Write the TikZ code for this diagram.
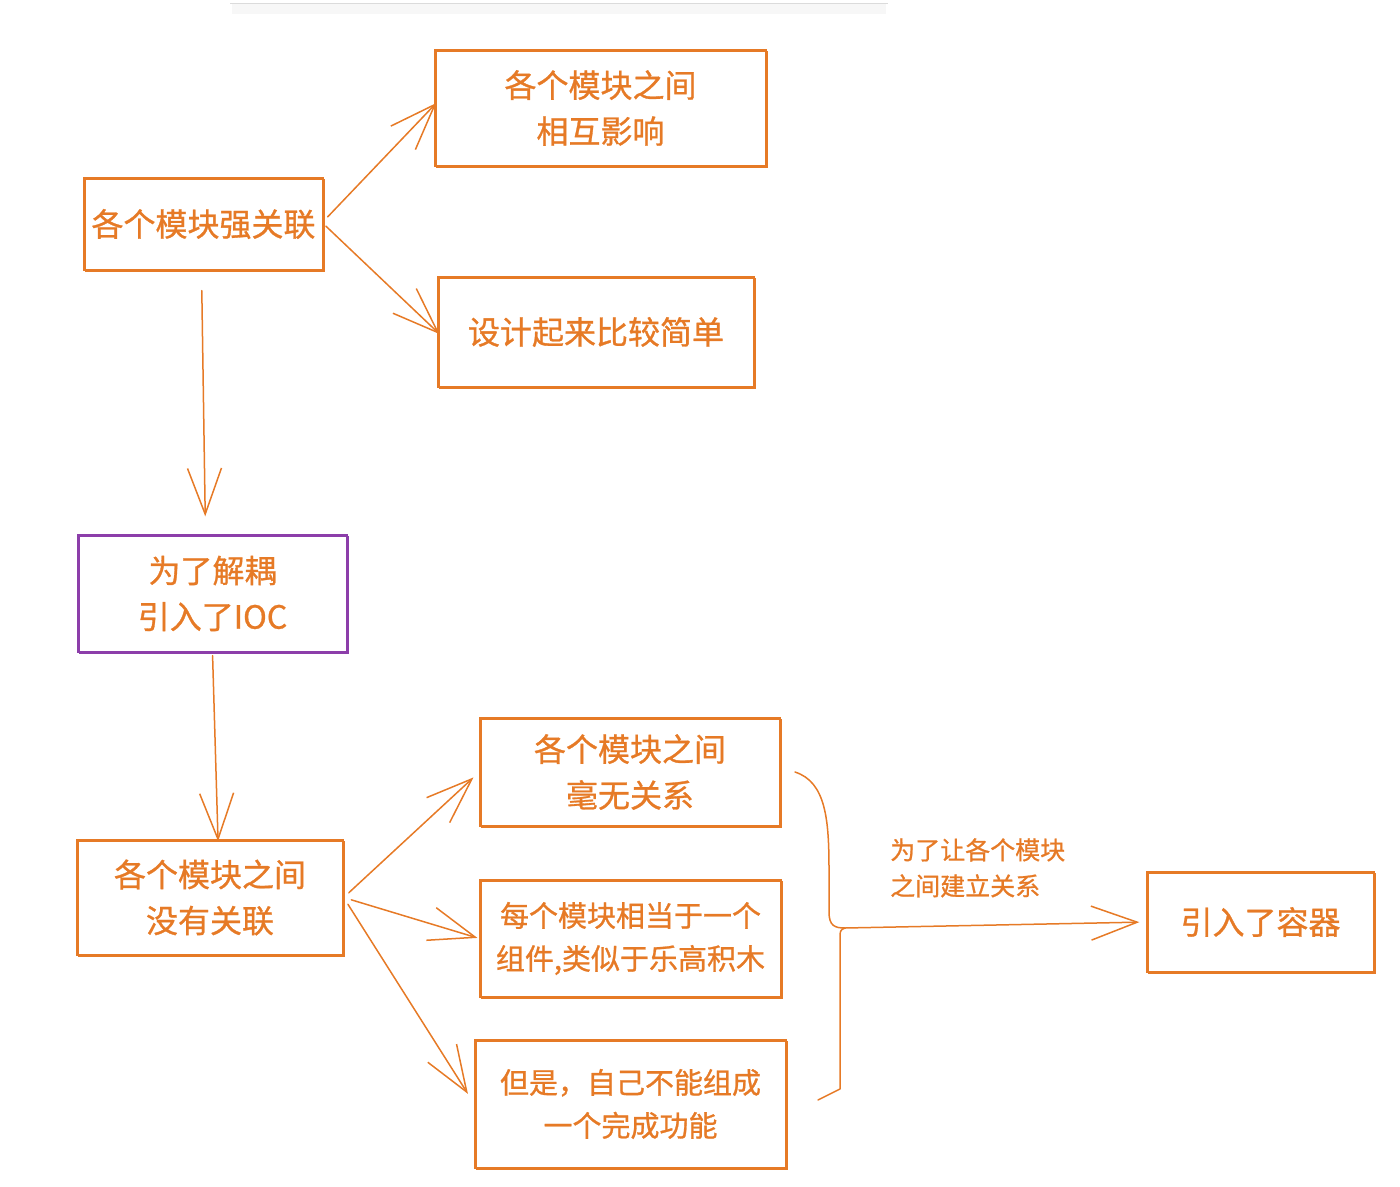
\documentclass[tikz,border=0pt]{standalone}
\usepackage{fontspec}
\setmainfont{Noto Sans CJK SC}[FakeBold=0.9]
\usetikzlibrary{arrows.meta,calc}
\definecolor{orng}{RGB}{230,122,38}
\definecolor{purp}{RGB}{140,62,170}
\tikzset{
  box/.style={draw=orng, line width=1.3pt, rectangle, inner sep=0pt, text=orng, align=center,
    font=\fontsize{32}{46}\selectfont,
    postaction={draw=orng, line width=0.7pt, transform canvas={shift={(1.5pt,-1.8pt)}}}},
  pbox/.style={box, draw=purp, postaction={draw=purp, line width=0.7pt, transform canvas={shift={(1.5pt,-1.8pt)}}}},
  smallbox/.style={box, font=\fontsize{29}{43}\selectfont},
  conn/.style={draw=orng, line width=1.5pt, line cap=round, line join=round,
    -{Straight Barb[length=46pt,width=34pt,line width=1.5pt]}},
  brace/.style={draw=orng, line width=1.5pt, line cap=round, line join=round},
  lbl/.style={text=orng, align=left, anchor=north west, inner sep=0pt, font=\fontsize{25}{36}\selectfont}
}
\begin{document}
\begin{tikzpicture}[x=1pt,y=-1pt]
\useasboundingbox (0,0) rectangle (1400,1186);
% faint rule at the top
\fill[gray!6] (232,4) rectangle (886,14);
\draw[gray!28, line width=1pt] (230,3) -- (888,3);

\node[box, minimum width=331pt, minimum height=116pt] (A) at (600.5,108) {各个模块之间\\相互影响};
\node[box, minimum width=239pt, minimum height=92pt] (B) at (203.5,224) {各个模块强关联};
\node[box, minimum width=316pt, minimum height=110pt] (C) at (596,332) {设计起来比较简单};
\node[pbox, minimum width=269pt, minimum height=117pt] (D) at (212.5,593.5) {为了解耦\\引入了IOC};
\node[box, minimum width=266pt, minimum height=115pt] (E) at (210,897.5) {各个模块之间\\没有关联};
\node[box, minimum width=300pt, minimum height=108pt] (F) at (630,772) {各个模块之间\\毫无关系};
\node[smallbox, minimum width=301pt, minimum height=117pt] (G) at (630.5,938.5) {每个模块相当于一个\\组件,类似于乐高积木};
\node[smallbox, minimum width=311pt, minimum height=128pt] (H) at (630.5,1104) {但是，自己不能组成\\一个完成功能};
\node[box, minimum width=227pt, minimum height=100pt] (I) at (1260.5,922) {引入了容器};

\node[lbl] (L) at (890,838) {为了让各个模块\\之间建立关系};

% connectors
\draw[conn, shorten <=3pt] ($(B.east)+(2,-5)$) -- ($(A.west)+(2,-5)$);
\draw[conn, shorten <=3pt, shorten >=-3pt] (B.east) -- (C.west);
\draw[conn, shorten <=20pt, shorten >=18pt] ($(B.south)+(-2,0)$) -- ($(D.north)+(-7,0)$);
\draw[conn, shorten <=3pt, shorten >=-2pt] (D.south) -- ($(E.north)+(8,0)$);
\draw[conn, shorten <=7pt, shorten >=8pt] (E.east) -- (F.west);
\draw[conn, shorten <=8pt, shorten >=2pt] (E.east) -- (G.west);
\draw[conn, shorten <=8pt, shorten >=12pt] (E.east) -- (H.west);

% brace
\coordinate (bt) at (795,772);
\coordinate (bb) at (818,1100);
\coordinate (bj) at (845,928);
\draw[brace] (bt) .. controls (826,782) and (829,820) .. (829,870) -- (829,912) .. controls (829,926) and (835,928) .. (bj);
\draw[brace] (bb) -- (840,1089) -- (840,942) .. controls (840,930) .. (bj);
\draw[conn, shorten >=7pt] (bj) -- (I.west);
\end{tikzpicture}
\end{document}
